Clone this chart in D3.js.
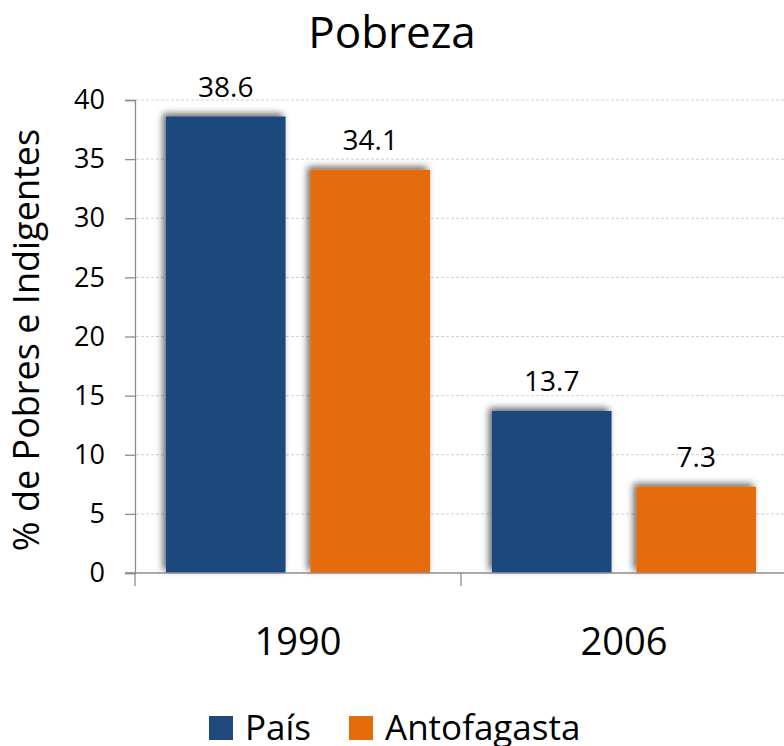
<!DOCTYPE html>
<html>
<head>
<meta charset="utf-8" />
<title>Pobreza</title>
<script src="https://d3js.org/d3.v7.min.js"></script>
<style>
body{
    margin:0;
    background:white;
}
text{
    font-family:"Open Sans", sans-serif;
    fill:#000;
}
.grid line{
    stroke:#d0d0d0;
    stroke-dasharray:3,2;
}
</style>
</head>
<body>
<div id="chart"></div>
<script>
// datos
var anos = ["1990", "2006"];
var series = ["País", "Antofagasta"];
var pais = [38.6, 13.7];
var antofagasta = [34.1, 7.3];
var colores = ["#1F497D", "#E46C0A"];
var yTicks = [0, 5, 10, 15, 20, 25, 30, 35, 40];

var width = 784, height = 746;
var margin = {top: 100, right: -3, bottom: 173, left: 135};

var svg = d3.select("#chart").append("svg")
    .attr("width", width)
    .attr("height", height);

// sombra de las barras
var defs = svg.append("defs");
var f = defs.append("filter").attr("id", "sombra")
    .attr("x", "-20%").attr("y", "-20%").attr("width", "140%").attr("height", "140%");
f.append("feDropShadow")
    .attr("dx", -3).attr("dy", -3)
    .attr("stdDeviation", 3.5)
    .attr("flood-color", "#000")
    .attr("flood-opacity", 0.6);

var x0 = d3.scaleBand()
    .domain(anos)
    .range([margin.left, width - margin.right])
    .paddingInner(0).paddingOuter(0);

var x1 = d3.scaleBand()
    .domain(series)
    .range([0, x0.bandwidth()])
    .paddingInner(0.172)
    .paddingOuter(0.214);

var y = d3.scaleLinear()
    .domain([0, 40])
    .range([height - margin.bottom, margin.top]);

// grilla
svg.append("g")
    .attr("class", "grid")
    .selectAll("line")
    .data(yTicks.slice(1))
    .enter().append("line")
    .attr("x1", margin.left + 1)
    .attr("x2", width)
    .attr("y1", function(d){ return y(d); })
    .attr("y2", function(d){ return y(d); });

// titulo
svg.append("text")
    .attr("x", 392)
    .attr("y", 48)
    .attr("text-anchor", "middle")
    .style("font-size", "44px")
    .text("Pobreza");

// eje y
var ejeY = svg.append("g")
    .attr("transform", "translate(" + margin.left + ",0)")
    .call(d3.axisLeft(y).tickValues(yTicks).tickSize(10).tickPadding(20));
ejeY.select(".domain").attr("stroke", "#8c8c8c").attr("stroke-width", 1.3);
ejeY.selectAll(".tick line").attr("stroke", "#8c8c8c").attr("stroke-width", 1.3);
ejeY.selectAll("text")
    .attr("fill", "#000")
    .style("font-family", "'Open Sans', sans-serif")
    .style("font-size", "27px");

svg.append("text")
    .attr("transform", "translate(39," + 340 + ") rotate(-90)")
    .attr("text-anchor", "middle")
    .style("font-size", "36px")
    .text("% de Pobres e Indigentes");

// barras
var datos = [];
anos.forEach(function(a, i){
    datos.push({ano: a, serie: series[0], valor: pais[i], color: colores[0]});
    datos.push({ano: a, serie: series[1], valor: antofagasta[i], color: colores[1]});
});

var barras = svg.append("g");
barras.selectAll("rect")
    .data(datos)
    .enter().append("rect")
    .attr("x", function(d){ return x0(d.ano) + x1(d.serie); })
    .attr("y", function(d){ return y(d.valor); })
    .attr("width", x1.bandwidth())
    .attr("height", function(d){ return y(0) - y(d.valor); })
    .attr("fill", function(d){ return d.color; })
    .attr("filter", "url(#sombra)");

barras.selectAll("text")
    .data(datos)
    .enter().append("text")
    .attr("x", function(d){ return x0(d.ano) + x1(d.serie) + x1.bandwidth() / 2; })
    .attr("y", function(d){ return y(d.valor) - 20; })
    .attr("text-anchor", "middle")
    .style("font-size", "28px")
    .text(function(d){ return d.valor.toFixed(1); });

// eje x
var ejeX = svg.append("g").attr("transform", "translate(0," + y(0) + ")");
ejeX.append("line")
    .attr("x1", margin.left - 10).attr("x2", width)
    .attr("stroke", "#8c8c8c").attr("stroke-width", 1.3);
ejeX.selectAll(".sep")
    .data(anos.concat(["fin"]))
    .enter().append("line")
    .attr("class", "sep")
    .attr("x1", function(d, i){ return margin.left + i * x0.bandwidth(); })
    .attr("x2", function(d, i){ return margin.left + i * x0.bandwidth(); })
    .attr("y1", 0).attr("y2", 13)
    .attr("stroke", "#8c8c8c").attr("stroke-width", 1.3);
ejeX.selectAll(".cat")
    .data(anos)
    .enter().append("text")
    .attr("class", "cat")
    .attr("x", function(d){ return x0(d) + x0.bandwidth() / 2; })
    .attr("y", 82)
    .attr("text-anchor", "middle")
    .style("font-size", "38px")
    .text(function(d){ return d; });

// leyenda
var leyX = [209, 349];
var ley = svg.append("g");
series.forEach(function(s, i){
    ley.append("rect")
        .attr("x", leyX[i]).attr("y", 716)
        .attr("width", 24).attr("height", 24)
        .attr("fill", colores[i]);
    ley.append("text")
        .attr("x", leyX[i] + 36).attr("y", 740)
        .style("font-size", "35px")
        .text(s);
});
</script>
</body>
</html>
